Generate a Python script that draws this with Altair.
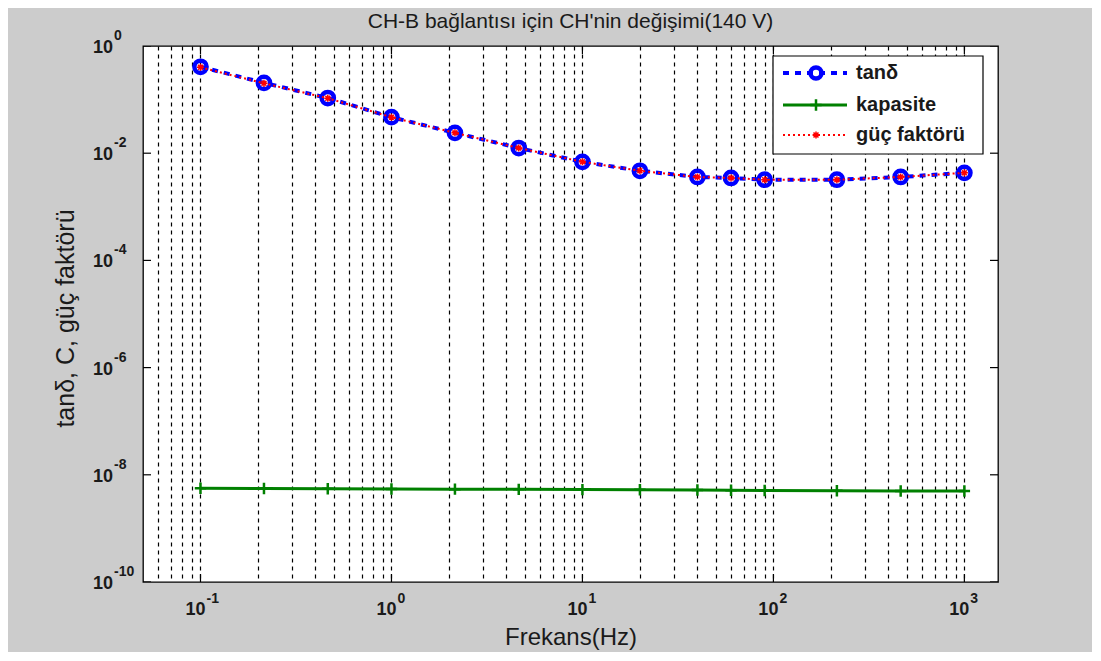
import math
import altair as alt
import pandas as pd

# ---------------- data ----------------
freq = [0.1, 0.215, 0.464, 1, 2.15, 4.64, 10, 20, 40, 60, 90, 215, 464, 1000]
tan_delta = [0.41, 0.205, 0.107, 0.047, 0.024, 0.0125, 0.0069, 0.0047, 0.0036,
             0.00345, 0.0032, 0.0032, 0.0036, 0.0043]
kapasite = [5.6e-9, 5.55e-9, 5.5e-9, 5.45e-9, 5.4e-9, 5.35e-9, 5.3e-9, 5.25e-9,
            5.2e-9, 5.15e-9, 5.1e-9, 5.05e-9, 5.0e-9, 5.0e-9]
guc_faktoru = [0.40, 0.201, 0.106, 0.047, 0.024, 0.0125, 0.0069, 0.0047, 0.0036,
               0.00345, 0.0032, 0.0032, 0.0036, 0.0043]

series_names = ["tanδ", "kapasite", "güç faktörü"]
title_text = "CH-B bağlantısı için CH'nin değişimi(140 V)"
x_title = "Frekans(Hz)"
y_title = "tanδ, C, güç faktörü"

X_MIN, X_MAX = 0.05, 1500
Y_MIN, Y_MAX = 1e-10, 1
x_major = [0.1, 1, 10, 100, 1000]
y_major = [1, 1e-2, 1e-4, 1e-6, 1e-8, 1e-10]
x_grid = [v for v in (round(m * 10 ** e, 10) for e in range(-2, 4) for m in range(1, 10))
          if X_MIN < v <= 1000]

FONT = "Liberation Sans"
TXT = "#1a1a1a"


def exponent(v):
    return str(int(round(math.log10(v))))


# ---------------- tables ----------------
df_tan = pd.DataFrame({"f": freq, "v": tan_delta})
df_cap = pd.DataFrame({"f": freq, "v": kapasite})
df_pf = pd.DataFrame({"f": freq, "v": guc_faktoru})
xlab_df = pd.DataFrame({"f": x_major, "base": ["10"] * len(x_major),
                        "exp": [exponent(v) for v in x_major]})
ylab_df = pd.DataFrame({"v": y_major, "base": ["10"] * len(y_major),
                        "exp": [exponent(v) for v in y_major]})

xs = alt.Scale(type="log", domain=[X_MIN, X_MAX], nice=False)
ys = alt.Scale(type="log", domain=[Y_MIN, Y_MAX], nice=False)

x_axis = alt.Axis(values=x_grid, grid=True, gridDash=[4, 4], gridColor="black",
                  gridWidth=1.2, gridOpacity=1, ticks=False, tickSize=0, domain=False,
                  labels=False,
                  title=x_title, titleFont=FONT, titleFontSize=24, titleFontWeight="normal",
                  titleColor=TXT, titleBaseline="alphabetic", titleY=62)
y_axis = alt.Axis(values=y_major, grid=False, ticks=False, tickSize=0, domain=False,
                  labels=False,
                  title=y_title, titleFont=FONT, titleFontSize=25, titleFontWeight="normal",
                  titleColor=TXT, titleX=-70, titleY=272, titleAngle=-90,
                  titleAlign="center", titleBaseline="alphabetic")

X = alt.X("f:Q", scale=xs, axis=x_axis)
Y = alt.Y("v:Q", scale=ys, axis=y_axis)
Xn = alt.X("f:Q", scale=xs)
Yn = alt.Y("v:Q", scale=ys)

BLUE, GREEN, RED = "#0000ff", "#008000", "#ff0000"
ASTER = "M-1,0L1,0M0,-1L0,1M-0.7,-0.7L0.7,0.7M-0.7,0.7L0.7,-0.7"
PLUS = "M-1,0L1,0M0,-1L0,1"

base_axes = alt.Chart(df_tan).mark_line(opacity=0).encode(x=X, y=Y)

tan_line = alt.Chart(df_tan).mark_line(color=BLUE, strokeWidth=4, strokeDash=[6, 6]).encode(x=Xn, y=Yn)
tan_pts = alt.Chart(df_tan).mark_point(shape="circle", filled=False, color=BLUE,
                                       strokeWidth=4.5, size=150, opacity=1).encode(x=Xn, y=Yn)
cap_line = alt.Chart(df_cap).mark_line(color=GREEN, strokeWidth=3).encode(x=Xn, y=Yn)
cap_pts = alt.Chart(df_cap).mark_point(shape=PLUS, filled=False, color=GREEN,
                                       strokeWidth=2.5, size=130, opacity=1).encode(x=Xn, y=Yn)
pf_line = alt.Chart(df_pf).mark_line(color=RED, strokeWidth=2, strokeDash=[2, 3]).encode(x=Xn, y=Yn)
pf_pts = alt.Chart(df_pf).mark_point(shape=ASTER, filled=False, color=RED,
                                     strokeWidth=1.5, size=50, opacity=1).encode(x=Xn, y=Yn)

# inward box ticks (clipped at the frame)
ytick_df = pd.DataFrame([(X_MIN, y) for y in y_major] + [(X_MAX, y) for y in y_major],
                        columns=["f", "v"])
xtick_df = pd.DataFrame([(x, Y_MIN) for x in x_major] + [(x, Y_MAX) for x in x_major],
                        columns=["f", "v"])
yticks = alt.Chart(ytick_df).mark_tick(orient="horizontal", size=16, thickness=1.2,
                                       color="black", clip=True, opacity=1).encode(x=Xn, y=Yn)
xticks = alt.Chart(xtick_df).mark_tick(orient="vertical", size=16, thickness=1.2,
                                       color="black", clip=True, opacity=1).encode(x=Xn, y=Yn)

# tick labels: "10" plus a raised exponent
xlab_base = alt.Chart(xlab_df).mark_text(align="right", baseline="alphabetic", dx=5,
                                         font=FONT, fontSize=18, fontWeight="bold",
                                         color=TXT).encode(x=Xn, y=alt.value(569), text="base:N")
xlab_exp = alt.Chart(xlab_df).mark_text(align="left", baseline="alphabetic", dx=6,
                                        font=FONT, fontSize=14, fontWeight="bold",
                                        color=TXT).encode(x=Xn, y=alt.value(557), text="exp:N")
ylab_base = alt.Chart(ylab_df).mark_text(align="left", baseline="alphabetic", dy=7,
                                         font=FONT, fontSize=18, fontWeight="bold",
                                         color=TXT).encode(x=alt.value(-50), y=Yn, text="base:N")
ylab_exp = alt.Chart(ylab_df).mark_text(align="left", baseline="alphabetic", dy=-6,
                                        font=FONT, fontSize=14, fontWeight="bold",
                                        color=TXT).encode(x=alt.value(-29), y=Yn, text="exp:N")

# chart title
title_layer = alt.Chart(pd.DataFrame({"t": [title_text]})).mark_text(
    align="center", baseline="alphabetic", font=FONT, fontSize=21, color=TXT
).encode(x=alt.value(427.5), y=alt.value(-18), text="t:N")

# ---------------- legend ----------------
one = pd.DataFrame({"a": [0]})
leg_box = alt.Chart(one).mark_rect(fill="white", stroke="black", strokeWidth=1.2).encode(
    x=alt.value(630), x2=alt.value(840), y=alt.value(10), y2=alt.value(108))
leg_y = [27, 59, 89]
leg_layers = [leg_box]
styles = [
    dict(line=dict(color=BLUE, strokeWidth=4, strokeDash=[6, 6]),
         pt=dict(shape="circle", filled=False, color=BLUE, strokeWidth=4.5, size=120)),
    dict(line=dict(color=GREEN, strokeWidth=3),
         pt=dict(shape=PLUS, filled=False, color=GREEN, strokeWidth=2.5, size=130)),
    dict(line=dict(color=RED, strokeWidth=2, strokeDash=[2, 3]),
         pt=dict(shape=ASTER, filled=False, color=RED, strokeWidth=1.5, size=50)),
]
for name, yy, st in zip(series_names, leg_y, styles):
    leg_layers.append(alt.Chart(one).mark_rule(**st["line"]).encode(
        x=alt.value(640), x2=alt.value(704), y=alt.value(yy)))
    leg_layers.append(alt.Chart(one).mark_point(opacity=1, **st["pt"]).encode(
        x=alt.value(673), y=alt.value(yy)))
    leg_layers.append(alt.Chart(pd.DataFrame({"t": [name]})).mark_text(
        align="left", baseline="middle", font=FONT, fontSize=20, fontWeight="bold",
        color=TXT).encode(x=alt.value(713), y=alt.value(yy), text="t:N"))

chart = alt.layer(
    base_axes, xticks, yticks,
    tan_line, tan_pts, cap_line, cap_pts, pf_line, pf_pts,
    xlab_base, xlab_exp, ylab_base, ylab_exp, title_layer,
    *leg_layers
).properties(
    width=855, height=536,
    autosize=alt.AutoSizeParams(type="none"),
    padding={"left": 135, "top": 38, "right": 94, "bottom": 70},
).configure(background="#cccccc").configure_view(
    fill="white", stroke="black", strokeWidth=1.3)

chart.save("out.html", embed_options={"renderer": "svg", "actions": False})
